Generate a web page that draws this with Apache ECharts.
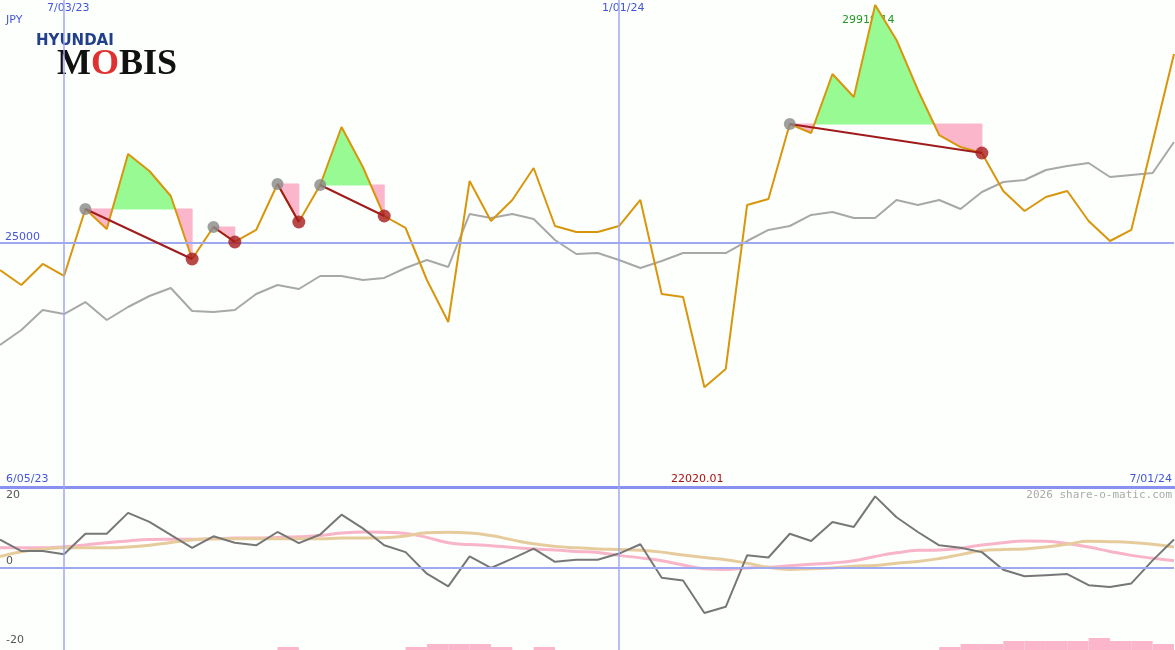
<!DOCTYPE html>
<html><head><meta charset="utf-8">
<script src="https://cdn.jsdelivr.net/npm/echarts@6/dist/echarts.min.js"></script>
<style>html,body{margin:0;padding:0;background:#fdfffd}#c{width:1175px;height:650px}</style>
</head><body><div id="c"></div>
<script>
const price=[24442,24132,24566,24318,25703,25289,26840,26488,25971,24669,25331,25021,25269,26220,25434,26199,27398,26571,25558,25310,24235,23367,26281,25455,25889,26550,25351,25227,25227,25351,25889,23946,23884,22020.01,22396,25785,25909,27459,27274,28493,28018,29919.14,29196,28163,27232,26984,26860,26075,25661,25951,26075,25455,25041,25269,27088,28907];
const ma=[22892,23202,23615,23532,23780,23408,23677,23904,24070,23594,23574,23615,23946,24132,24049,24318,24318,24235,24277,24483,24649,24504,25599,25517,25599,25496,25062,24773,24793,24649,24483,24628,24793,24793,24793,25041,25269,25351,25579,25641,25517,25517,25889,25785,25889,25703,26054,26261,26302,26509,26592,26654,26364,26406,26447,27088];
const osc=[7.9,4.7,4.7,3.8,9.5,9.5,15.3,12.8,9.2,5.6,8.8,7.0,6.3,10.0,6.9,9.3,14.8,11.0,6.3,4.4,-1.6,-5.1,3.2,0,2.6,5.4,1.7,2.3,2.3,4.0,6.6,-2.7,-3.5,-12.5,-10.8,3.5,2.9,9.5,7.5,12.8,11.4,19.9,14.1,10.0,6.3,5.6,4.4,-0.5,-2.3,-2.0,-1.7,-4.8,-5.3,-4.3,2.1,7.9];
const pinkLine=[5.6,5.6,5.6,5.9,6.4,7.0,7.5,7.9,8.0,8.0,8.1,8.3,8.3,8.5,8.7,9.0,9.7,10.0,9.9,9.6,8.5,7.0,6.5,6.2,5.7,5.3,5.0,4.6,4.3,3.5,2.8,2.0,0.8,-0.2,-0.4,0,0.2,0.6,1.0,1.4,2.0,3.2,4.2,4.9,5.0,5.5,6.4,7.0,7.5,7.4,6.8,5.8,4.6,3.5,2.7,2.0];
const tanLine=[3.2,4.5,5.2,5.6,5.6,5.6,5.8,6.3,7.1,7.8,8.1,8.1,8.1,8.1,8.1,8.1,8.3,8.3,8.4,8.9,9.8,9.9,9.7,9.0,7.8,6.7,6.0,5.6,5.3,5.1,4.9,4.4,3.6,2.9,2.3,1.3,0.2,-0.4,-0.2,0.0,0.5,0.7,1.3,1.8,2.6,3.7,4.8,5.1,5.3,5.8,6.6,7.4,7.3,7.1,6.6,5.8];
const hist=[0,0,0,0,0,0,0,0,0,0,0,0,0,1,0,0,0,0,0,1,2,2,2,1,0,1,0,0,0,0,0,0,0,0,0,0,0,0,0,0,0,0,0,0,1,2,2,3,3,3,3,4,3,3,2];
const segStart=[4,10,13,15,37];
const segEnd=[9,11,14,18,46];
const dateIdx=[3,29];
const dateLabels=['7/03/23','1/01/24'];

const chart=echarts.init(document.getElementById('c'));
const N=price.length;
const priceXY=price.map((v,i)=>[i,v]);
const segLine=[];
segStart.forEach((s,k)=>{segLine.push([s,price[s]]);segLine.push([segEnd[k],price[segEnd[k]]]);segLine.push('-');});
const blue='#a0a8f0';
chart.setOption({
 animation:false,backgroundColor:'#fdfffd',
 grid:[{left:0,right:1,top:0,height:487},{left:0,right:1,top:487,height:163},{left:0,right:1,top:620,height:30}],
 xAxis:[
  {gridIndex:0,type:'value',min:0,max:N-1,show:false},
  {gridIndex:1,type:'value',min:0,max:N-1,show:false},
  {gridIndex:2,type:'category',data:hist.map((_,i)=>i),boundaryGap:true,show:false}
 ],
 yAxis:[
  {gridIndex:0,type:'value',min:19956,max:30023,show:false},
  {gridIndex:1,type:'value',min:-22.8,max:22.5,show:false},
  {gridIndex:2,type:'value',min:0,max:10,show:false}
 ],
 series:[
  {type:'custom',xAxisIndex:0,yAxisIndex:0,data:segStart.map((s,k)=>[s,segEnd[k]]),z:1,silent:true,
   renderItem:(p,api)=>{
     const s=api.value(0),e=api.value(1),L=price[s];const ch=[];
     for(let i=s;i<e;i++){
       const a=price[i],b=price[i+1];
       const pieces=[];
       if((a-L)*(b-L)<0){const t=(L-a)/(b-a);pieces.push([i,a,i+t,L]);pieces.push([i+t,L,i+1,b]);}
       else pieces.push([i,a,i+1,b]);
       pieces.forEach(([x0,y0,x1,y1])=>{
         const up=(y0+y1)/2>=L;const c=up?'#98fa92':'#fbb6cc';
         const pts=[api.coord([x0,L]),api.coord([x0,y0]),api.coord([x1,y1]),api.coord([x1,L])];
         ch.push({type:'polygon',shape:{points:pts},style:{fill:c,stroke:c,lineWidth:1}});
       });
     }
     return {type:'group',children:ch};
   }},
  {type:'line',xAxisIndex:0,yAxisIndex:0,data:ma.map((v,i)=>[i,v]),symbol:'none',lineStyle:{color:'#a8a8a8',width:2},z:2,
   markLine:{silent:true,symbol:'none',label:{show:false},lineStyle:{color:blue,width:2,type:'solid'},data:[{yAxis:25000},{xAxis:dateIdx[0],lineStyle:{width:1.5}},{xAxis:dateIdx[1],lineStyle:{width:1.5}}]}},
  {type:'line',xAxisIndex:0,yAxisIndex:0,data:priceXY,symbol:'none',lineStyle:{color:'#d8960c',width:2},z:4},
  {type:'line',xAxisIndex:0,yAxisIndex:0,data:segLine,symbol:'none',connectNulls:false,lineStyle:{color:'#a01c1c',width:2},z:5},
  {type:'scatter',xAxisIndex:0,yAxisIndex:0,data:segStart.map(s=>[s,price[s]]),symbolSize:12,itemStyle:{color:'#888888'},z:6},
  {type:'scatter',xAxisIndex:0,yAxisIndex:0,data:segEnd.map(s=>[s,price[s]]),symbolSize:13,itemStyle:{color:'#a81c1c'},z:6},
  {type:'line',xAxisIndex:1,yAxisIndex:1,data:pinkLine.map((v,i)=>[i,v]),symbol:'none',smooth:true,lineStyle:{color:'#f8b4c8',width:3},z:2,
   markLine:{silent:true,symbol:'none',label:{show:false},lineStyle:{color:blue,width:2,type:'solid'},data:[{yAxis:0},{xAxis:dateIdx[0],lineStyle:{width:1.5}},{xAxis:dateIdx[1],lineStyle:{width:1.5}}]}},
  {type:'line',xAxisIndex:1,yAxisIndex:1,data:tanLine.map((v,i)=>[i,v]),symbol:'none',smooth:true,lineStyle:{color:'#e6cc9c',width:3},z:2},
  {type:'line',xAxisIndex:1,yAxisIndex:1,data:osc.map((v,i)=>[i,v]),symbol:'none',lineStyle:{color:'#777777',width:2},z:3},
  {type:'bar',xAxisIndex:2,yAxisIndex:2,data:hist,barWidth:'100%',itemStyle:{color:'#fbb6cc'},z:1}
 ],
 graphic:[
  {type:'rect',shape:{x:0,y:486,width:1175,height:3},style:{fill:'#8890f0'}},
  {type:'text',left:47,top:3,style:{text:dateLabels[0],fill:'#4455dd',font:'11px DejaVu Sans'}},
  {type:'text',left:602,top:3,style:{text:dateLabels[1],fill:'#4455dd',font:'11px DejaVu Sans'}},
  {type:'text',left:6,top:15,style:{text:'JPY',fill:'#4455dd',font:'11px DejaVu Sans'}},
  {type:'text',left:5,top:232,style:{text:'25000',fill:'#4455dd',font:'11px DejaVu Sans'}},
  {type:'text',left:842,top:15,style:{text:'29919.14',fill:'#229922',font:'11px DejaVu Sans'}},
  {type:'text',left:6,top:474,style:{text:'6/05/23',fill:'#4455dd',font:'11px DejaVu Sans'}},
  {type:'text',left:671,top:474,style:{text:'22020.01',fill:'#aa1111',font:'11px DejaVu Sans'}},
  {type:'text',right:3,top:474,style:{text:'7/01/24',fill:'#4455dd',font:'11px DejaVu Sans'}},
  {type:'text',right:3,top:490,style:{text:'2026 share-o-matic.com',fill:'#aaaaaa',font:'11px DejaVu Sans Mono'}},
  {type:'text',left:6,top:490,style:{text:'20',fill:'#555',font:'11px DejaVu Sans'}},
  {type:'text',left:6,top:556,style:{text:'0',fill:'#555',font:'11px DejaVu Sans'}},
  {type:'text',left:6,top:635,style:{text:'-20',fill:'#555',font:'11px DejaVu Sans'}},
  {type:'text',left:36,top:34,style:{text:'HYUNDAI',fill:'#22408a',font:'bold 15px DejaVu Sans',letterSpacing:1}},
  {type:'text',left:57,top:47,style:{text:'{m|M}{o|O}{m|BIS}',rich:{m:{fill:'#111',font:'bold 36px Liberation Serif'},o:{fill:'#e03030',font:'bold 36px Liberation Serif'}}}}
 ]
});
</script></body></html>
